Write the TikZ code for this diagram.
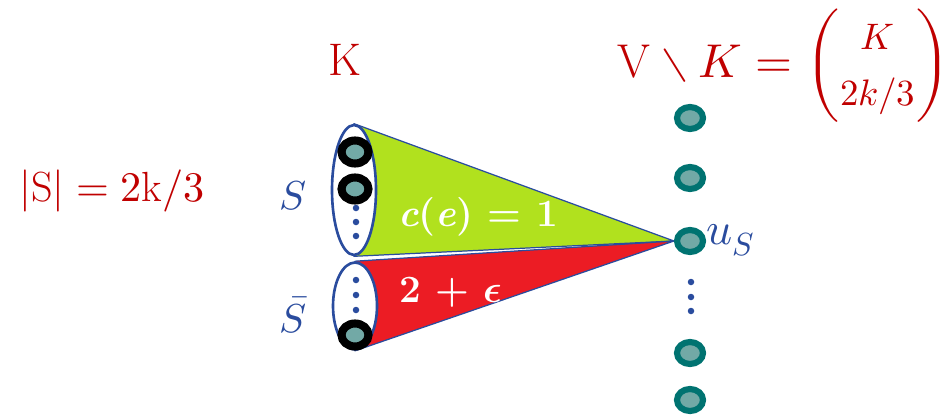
\documentclass[tikz,border=0pt]{standalone}
\usepackage{amsmath}
\usepackage{unicode-math}
\setmathfont{Latin Modern Math}
\usepackage{tikz}
\usetikzlibrary{positioning,shapes.geometric,backgrounds}
\definecolor{rojo}{HTML}{C00000}
\definecolor{azul}{HTML}{2A4C9E}
\definecolor{verde}{HTML}{B1E11E}
\definecolor{rojovivo}{HTML}{EC1C24}
\definecolor{petroleo}{HTML}{007371}
\definecolor{gris}{HTML}{72A9A6}

\begin{document}
\begin{tikzpicture}[x=0.02cm, y=-0.02cm,
  conjunto/.style={ellipse, draw=azul, line width=1.5pt, fill=white, inner sep=0pt, minimum width=0.88cm},
  vertice/.style={ellipse, draw=petroleo, line width=3.5pt, fill=gris, inner sep=0pt, minimum width=0.52cm, minimum height=0.44cm},
  elegido/.style={ellipse, draw=black, line width=4.6pt, fill=gris, inner sep=0pt, minimum width=0.54cm, minimum height=0.46cm},
  punto/.style={circle, fill=azul, inner sep=0pt, minimum size=0.13cm},
  cono/.style={draw=azul, line width=0.7pt, line join=round},
  etiq/.style={text=rojo, inner sep=0pt}
]
  \useasboundingbox (0,0) rectangle (949,416);

  % conjuntos S y S barra
  \node[conjunto, minimum height=2.6cm] (S) at (354,190) {};
  \node[conjunto, minimum height=1.74cm] (Sbar) at (355,306) {};
  \node[elegido] (s1) at (355,152) {};
  \node[elegido] (s2) at (355,189) {};
  \node[elegido] (s3) at (355,335) {};
  \foreach \y in {208,222,236} \node[punto] at (356,\y) {};
  \foreach \y in {280,295,310} \node[punto] at (356,\y) {};

  % vertices de V \ K
  \node[vertice] (v1) at (690,118) {};
  \node[vertice] (v2) at (690,178) {};
  \node[vertice] (uS) at (690,241) {};
  \node[vertice] (v4) at (690,353) {};
  \node[vertice] (v5) at (690,400) {};
  \foreach \y in {282,297,311} \node[punto] at (691,\y) {};

  % conos
  \begin{scope}[on background layer]
    \filldraw[cono, fill=verde] (S.north) -- (uS.west) -- (S.south) -- cycle;
    \filldraw[cono, fill=rojovivo] (Sbar.north) -- (uS.west) -- (Sbar.south) -- cycle;
  \end{scope}

  % etiquetas
  \node[text=white, font=\fontsize{22}{24}\selectfont\bfseries] (ce) at (478,217)
        {\textit{c}(\textit{e}) = 1};
  \node[text=white, font=\fontsize{22}{26}\selectfont\bfseries] (eps) at (451,292)
        {2 + $\symbfit{\epsilon}$};
  \node[text=azul, font=\fontsize{26}{30}\selectfont] (uSl) at (731,240) {$u_S$};
  \node[text=azul, font=\fontsize{23}{27}\selectfont] (Sl) at (293,196) {$S$};
  \node[text=azul, font=\fontsize{23}{27}\selectfont] (Sbarl) at (293,315) {$\bar{S}$};
  \node[etiq, font=\fontsize{26}{30}\selectfont] (K) at (345,60) {K};
  \node[etiq, font=\fontsize{24}{28}\selectfont] (tam) at (112,191) {$|\mathrm{S}| = 2\mathrm{k}/3$};
  \node[etiq, font=\fontsize{27}{32}\selectfont] (resto) at (784,66)
        {$\mathrm{V}\setminus K = \left(\vcenter{\hbox{\fontsize{21}{32}\selectfont
          \begin{tabular}{@{}c@{}}$K$\\$2k/3$\end{tabular}}}\right)$};
\end{tikzpicture}
\end{document}
